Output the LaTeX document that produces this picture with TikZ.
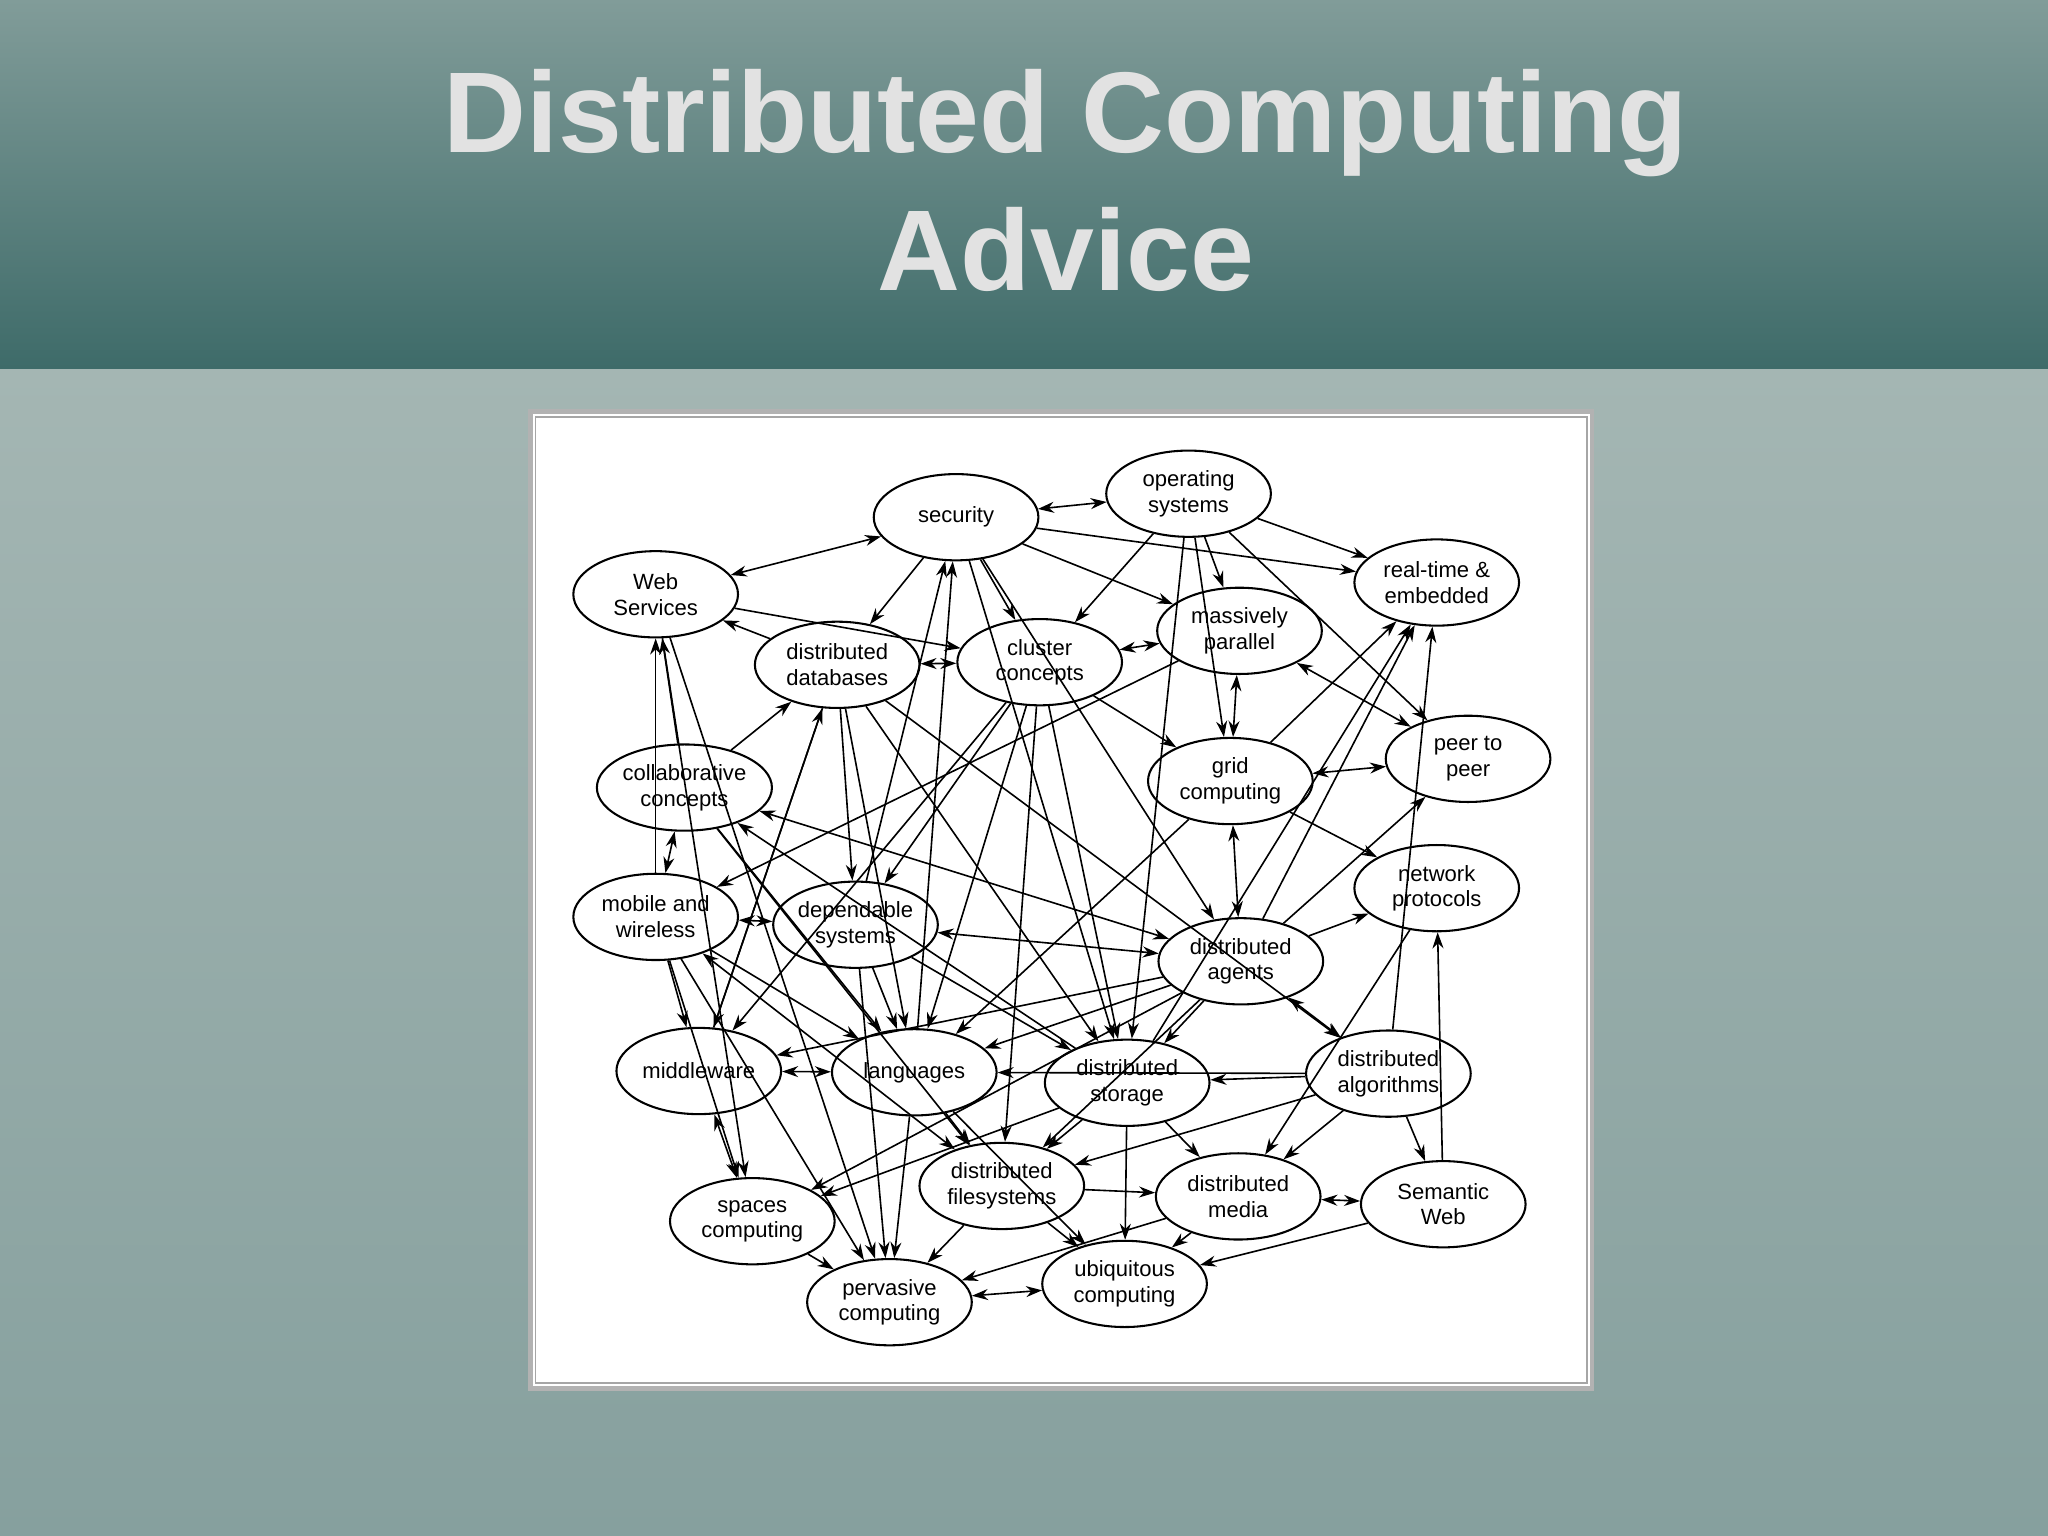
\documentclass[tikz,border=0pt]{standalone}
\usepackage{fontspec}
\setmainfont{Liberation Sans}
\usetikzlibrary{shapes.geometric,arrows.meta}
\definecolor{hdtop}{HTML}{819C99}
\definecolor{hdbot}{HTML}{3E6B69}
\definecolor{bgtop}{HTML}{A4B6B3}
\definecolor{bgbot}{HTML}{86A09E}
\definecolor{ttl}{HTML}{E2E2E2}
\begin{document}
\begin{tikzpicture}[x=0.01cm,y=-0.01cm,
  el/.style={ellipse,draw,line width=0.45pt,fill=white,minimum width=1.26cm,minimum height=0.66cm,inner sep=0pt,align=center,font=\fontsize{4.8}{5.6}\selectfont},
  ar/.style={-{Stealth[length=3.5pt,width=2.4pt]},line width=0.35pt},
  br/.style={{Stealth[length=3.5pt,width=2.4pt]}-{Stealth[length=3.5pt,width=2.4pt]},line width=0.35pt}]
\useasboundingbox (0,0) rectangle (1568,1176);
\shade[top color=bgtop,bottom color=bgbot] (0,282) rectangle (1568,1176);
\shade[top color=hdtop,bottom color=hdbot] (0,0) rectangle (1568,282);
\node[font=\bfseries\fontsize{25}{30}\selectfont,text=ttl,align=center] (title) at (816,138) {Distributed Computing\\Advice};
\draw[fill=white,draw=gray!60,line width=1pt] (406,315) rectangle (1219,1063);
\draw[gray!70,line width=0.4pt] (410,319) rectangle (1215,1059);
\node[el] (sec) at (732,396) {security};
\node[el] (os) at (910,378) {operating\\systems};
\node[el] (ws) at (502,455) {Web\\Services};
\node[el] (rt) at (1100,446) {real-time \&\\embedded};
\node[el] (mp) at (949,483) {massively\\parallel};
\node[el] (ddb) at (641,509) {distributed\\databases};
\node[el] (cc) at (796,507) {cluster\\concepts};
\node[el] (p2p) at (1124,581) {peer to\\peer};
\node[el] (col) at (524,603) {collaborative\\concepts};
\node[el] (grid) at (942,598) {grid\\computing};
\node[el] (np) at (1100,680) {network\\protocols};
\node[el] (mw) at (502,702) {mobile and\\wireless};
\node[el] (dep) at (655,708) {dependable\\systems};
\node[el] (dag) at (950,736) {distributed\\agents};
\node[el] (mid) at (535,820) {middleware};
\node[el] (lang) at (700,821) {languages};
\node[el] (ds) at (863,829) {distributed\\storage};
\node[el] (dalg) at (1063,822) {distributed\\algorithms};
\node[el] (spc) at (576,935) {spaces\\computing};
\node[el] (dfs) at (767,908) {distributed\\filesystems};
\node[el] (dm) at (948,916) {distributed\\media};
\node[el] (sw) at (1105,922) {Semantic\\Web};
\node[el] (perv) at (681,997) {pervasive\\computing};
\node[el] (ubi) at (861,983) {ubiquitous\\computing};
\begin{scope}[on background layer/.style={}]
\foreach \a/\b in {sec/os,sec/ws,col/mw,ddb/cc,cc/mp,mp/grid,mp/p2p,grid/p2p,grid/dag,mw/dep,mw/dfs,dep/dag,dag/dalg,mid/lang,mid/spc,perv/ubi,dm/sw,col/dag}
  \draw[br] (\a) -- (\b);
\foreach \a/\b in {sec/ddb,sec/cc,sec/rt,sec/mp,sec/dag,sec/ds,os/rt,os/mp,os/cc,os/grid,os/p2p,os/ds,ddb/ws,ws/perv,ws/spc,col/ws,mw/ws,col/ddb,col/lang,col/dfs,ddb/dep,ddb/mid,ddb/ds,ddb/dalg,ddb/lang,cc/grid,cc/lang,cc/dep,cc/ds,cc/dfs,cc/mid,mp/mw,dag/rt,dalg/rt,ds/rt,grid/rt,grid/np,grid/lang,dag/p2p,dag/np,sw/np,np/dm,mw/mid,mw/lang,mw/spc,dep/lang,dep/perv,dep/ds,dag/mid,dag/lang,dag/dfs,dag/ds,dag/spc,lang/perv,lang/dfs,lang/ubi,dalg/lang,dalg/ds,ds/ubi,ds/dfs,ds/dm,ds/spc,dalg/dm,dalg/sw,dalg/dfs,dm/ubi,dfs/ubi,dfs/perv,dfs/dm,sw/ubi,spc/perv,ws/cc,lang/sec,dep/sec,mid/ddb,ds/col,dm/perv,mw/perv}
  \draw[ar] (\a) -- (\b);
\end{scope}
\end{tikzpicture}
\end{document}
